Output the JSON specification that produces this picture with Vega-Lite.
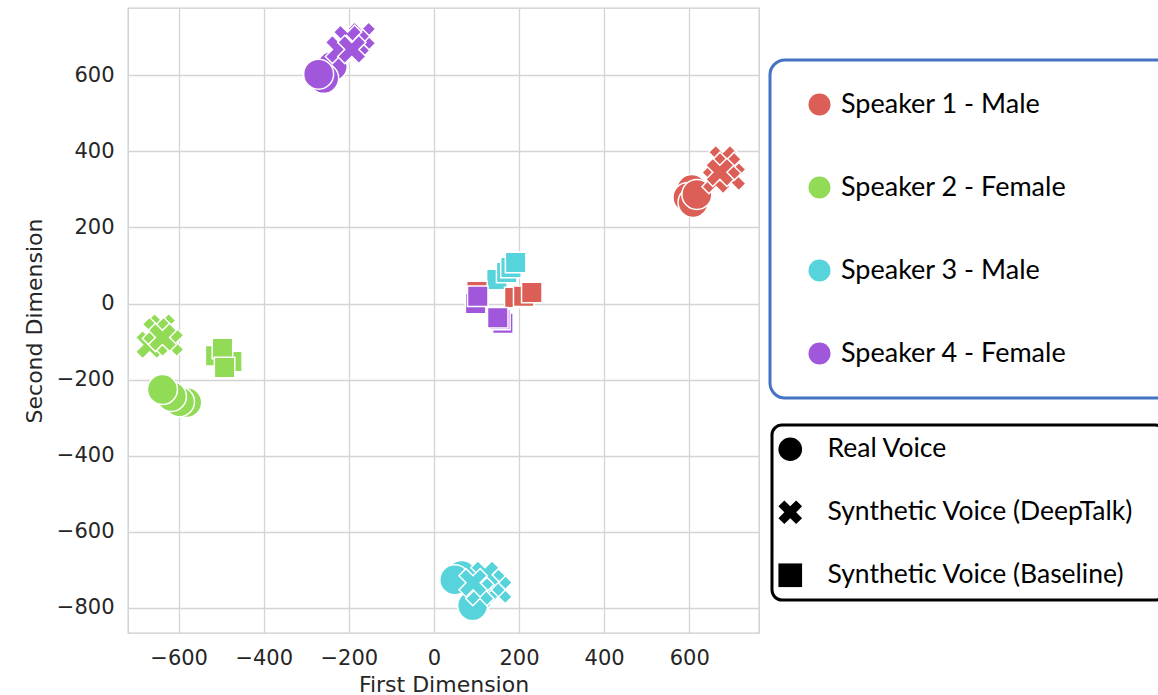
{
  "$schema": "https://vega.github.io/schema/vega-lite/v6.json",
  "width": 631,
  "height": 625,
  "autosize": {"type": "none"},
  "padding": {"left": 128, "top": 8, "right": 399, "bottom": 62},
  "background": "white",
  "config": {
    "view": {"stroke": "#cccccc", "strokeWidth": 1.3},
    "legend": {"strokeWidth": 3},
    "axis": {
      "domain": false, "ticks": false, "grid": true,
      "gridColor": "#d4d4d4", "gridWidth": 1.3,
      "labelFont": "DejaVu Sans", "labelFontSize": 21, "labelColor": "#262626", "labelPadding": 14,
      "titleFont": "DejaVu Sans", "titleFontSize": 22, "titleFontWeight": "normal", "titleColor": "#262626"
    }
  },
  "data": {
    "values": [
      {"x": -253, "y": 613, "speaker": "Speaker 4 - Female", "type": "Real Voice"},
      {"x": -239, "y": 624, "speaker": "Speaker 4 - Female", "type": "Real Voice"},
      {"x": -259, "y": 592, "speaker": "Speaker 4 - Female", "type": "Real Voice"},
      {"x": -271, "y": 603, "speaker": "Speaker 4 - Female", "type": "Real Voice"},
      {"x": -170, "y": 703, "speaker": "Speaker 4 - Female", "type": "Synthetic Voice (DeepTalk)"},
      {"x": -184, "y": 684, "speaker": "Speaker 4 - Female", "type": "Synthetic Voice (DeepTalk)"},
      {"x": -203, "y": 695, "speaker": "Speaker 4 - Female", "type": "Synthetic Voice (DeepTalk)"},
      {"x": -222, "y": 668, "speaker": "Speaker 4 - Female", "type": "Synthetic Voice (DeepTalk)"},
      {"x": -193, "y": 668, "speaker": "Speaker 4 - Female", "type": "Synthetic Voice (DeepTalk)"},

      {"x": 606, "y": 300, "speaker": "Speaker 1 - Male", "type": "Real Voice"},
      {"x": 597, "y": 279, "speaker": "Speaker 1 - Male", "type": "Real Voice"},
      {"x": 609, "y": 266, "speaker": "Speaker 1 - Male", "type": "Real Voice"},
      {"x": 618, "y": 287, "speaker": "Speaker 1 - Male", "type": "Real Voice"},
      {"x": 679, "y": 379, "speaker": "Speaker 1 - Male", "type": "Synthetic Voice (DeepTalk)"},
      {"x": 700, "y": 334, "speaker": "Speaker 1 - Male", "type": "Synthetic Voice (DeepTalk)"},
      {"x": 663, "y": 326, "speaker": "Speaker 1 - Male", "type": "Synthetic Voice (DeepTalk)"},
      {"x": 689, "y": 361, "speaker": "Speaker 1 - Male", "type": "Synthetic Voice (DeepTalk)"},
      {"x": 672, "y": 345, "speaker": "Speaker 1 - Male", "type": "Synthetic Voice (DeepTalk)"},

      {"x": -640, "y": -63, "speaker": "Speaker 2 - Female", "type": "Synthetic Voice (DeepTalk)"},
      {"x": -668, "y": -108, "speaker": "Speaker 2 - Female", "type": "Synthetic Voice (DeepTalk)"},
      {"x": -621, "y": -102, "speaker": "Speaker 2 - Female", "type": "Synthetic Voice (DeepTalk)"},
      {"x": -652, "y": -73, "speaker": "Speaker 2 - Female", "type": "Synthetic Voice (DeepTalk)"},
      {"x": -638, "y": -89, "speaker": "Speaker 2 - Female", "type": "Synthetic Voice (DeepTalk)"},
      {"x": -513, "y": -137, "speaker": "Speaker 2 - Female", "type": "Synthetic Voice (Baseline)"},
      {"x": -475, "y": -152, "speaker": "Speaker 2 - Female", "type": "Synthetic Voice (Baseline)"},
      {"x": -497, "y": -118, "speaker": "Speaker 2 - Female", "type": "Synthetic Voice (Baseline)"},
      {"x": -492, "y": -168, "speaker": "Speaker 2 - Female", "type": "Synthetic Voice (Baseline)"},
      {"x": -581, "y": -260, "speaker": "Speaker 2 - Female", "type": "Real Voice"},
      {"x": -598, "y": -258, "speaker": "Speaker 2 - Female", "type": "Real Voice"},
      {"x": -617, "y": -244, "speaker": "Speaker 2 - Female", "type": "Real Voice"},
      {"x": -638, "y": -226, "speaker": "Speaker 2 - Female", "type": "Real Voice"},

      {"x": 148, "y": 63, "speaker": "Speaker 3 - Male", "type": "Synthetic Voice (Baseline)"},
      {"x": 171, "y": 82, "speaker": "Speaker 3 - Male", "type": "Synthetic Voice (Baseline)"},
      {"x": 181, "y": 95, "speaker": "Speaker 3 - Male", "type": "Synthetic Voice (Baseline)"},
      {"x": 192, "y": 108, "speaker": "Speaker 3 - Male", "type": "Synthetic Voice (Baseline)"},
      {"x": 101, "y": 32, "speaker": "Speaker 1 - Male", "type": "Synthetic Voice (Baseline)"},
      {"x": 190, "y": 16, "speaker": "Speaker 1 - Male", "type": "Synthetic Voice (Baseline)"},
      {"x": 211, "y": 19, "speaker": "Speaker 1 - Male", "type": "Synthetic Voice (Baseline)"},
      {"x": 230, "y": 29, "speaker": "Speaker 1 - Male", "type": "Synthetic Voice (Baseline)"},
      {"x": 98, "y": 0, "speaker": "Speaker 4 - Female", "type": "Synthetic Voice (Baseline)"},
      {"x": 162, "y": -52, "speaker": "Speaker 4 - Female", "type": "Synthetic Voice (Baseline)"},
      {"x": 155, "y": -42, "speaker": "Speaker 4 - Female", "type": "Synthetic Voice (Baseline)"},
      {"x": 103, "y": 19, "speaker": "Speaker 4 - Female", "type": "Synthetic Voice (Baseline)"},
      {"x": 150, "y": -37, "speaker": "Speaker 4 - Female", "type": "Synthetic Voice (Baseline)"},

      {"x": 103, "y": -773, "speaker": "Speaker 3 - Male", "type": "Real Voice"},
      {"x": 91, "y": -794, "speaker": "Speaker 3 - Male", "type": "Real Voice"},
      {"x": 65, "y": -715, "speaker": "Speaker 3 - Male", "type": "Real Voice"},
      {"x": 49, "y": -726, "speaker": "Speaker 3 - Male", "type": "Real Voice"},
      {"x": 151, "y": -752, "speaker": "Speaker 3 - Male", "type": "Synthetic Voice (DeepTalk)"},
      {"x": 135, "y": -734, "speaker": "Speaker 3 - Male", "type": "Synthetic Voice (DeepTalk)"},
      {"x": 120, "y": -713, "speaker": "Speaker 3 - Male", "type": "Synthetic Voice (DeepTalk)"},
      {"x": 108, "y": -757, "speaker": "Speaker 3 - Male", "type": "Synthetic Voice (DeepTalk)"},
      {"x": 92, "y": -734, "speaker": "Speaker 3 - Male", "type": "Synthetic Voice (DeepTalk)"}
    ]
  },
  "encoding": {
    "x": {
      "field": "x", "type": "quantitative",
      "scale": {"domain": [-719, 764], "nice": false, "zero": false},
      "axis": {"values": [-600, -400, -200, 0, 200, 400, 600], "title": "First Dimension", "titlePadding": 6}
    },
    "y": {
      "field": "y", "type": "quantitative",
      "scale": {"domain": [-866, 777], "nice": false, "zero": false},
      "axis": {"values": [-800, -600, -400, -200, 0, 200, 400, 600], "title": "Second Dimension", "titlePadding": 10}
    },
    "color": {
      "field": "speaker", "type": "nominal",
      "scale": {
        "domain": ["Speaker 1 - Male", "Speaker 2 - Female", "Speaker 3 - Male", "Speaker 4 - Female"],
        "range": ["#db5f57", "#91db57", "#57d3db", "#a157db"]
      },
      "legend": {
        "orient": "none", "legendX": 642, "legendY": 52, "title": null, "direction": "vertical",
        "padding": 31, "symbolOffset": 5, "symbolType": "circle", "symbolSize": 484,
        "symbolStrokeWidth": 0, "symbolOpacity": 1,
        "labelFont": "Lato", "labelFontSize": 27, "labelColor": "black", "labelOffset": 8, "labelLimit": 1000,
        "rowPadding": 55, "strokeColor": "#4472C4", "cornerRadius": 15, "fillColor": "white",
        "labelExpr": "datum.label + '\u2800\u2800\u2800\u2800'",
        "encode": {"legend": {"enter": {"strokeWidth": {"value": 3}}, "update": {"strokeWidth": {"value": 3}}}}
      }
    },
    "shape": {
      "field": "type", "type": "nominal",
      "scale": {
        "domain": ["Real Voice", "Synthetic Voice (DeepTalk)", "Synthetic Voice (Baseline)"],
        "range": ["circle", "M0.5,-1L1,-0.5L0.5,0L1,0.5L0.5,1L0,0.5L-0.5,1L-1,0.5L-0.5,0L-1,-0.5L-0.5,-1L0,-0.5Z", "square"]
      },
      "legend": {
        "orient": "none", "legendX": 644, "legendY": 417, "title": null, "direction": "vertical",
        "padding": 11, "symbolOffset": -6, "symbolSize": 560,
        "symbolFillColor": "black", "symbolStrokeColor": "black", "symbolStrokeWidth": 0, "symbolOpacity": 1,
        "labelFont": "Lato", "labelFontSize": 26.5, "labelColor": "black", "labelOffset": 24, "labelLimit": 1000,
        "rowPadding": 36, "strokeColor": "black", "cornerRadius": 10, "fillColor": "white",
        "labelExpr": "datum.label + '\u2800'",
        "encode": {
          "legend": {"enter": {"strokeWidth": {"value": 3}}, "update": {"strokeWidth": {"value": 3}}},
          "symbols": {"update": {"fill": {"value": "black"}, "stroke": {"value": "black"}, "strokeWidth": {"value": 0}}}
        }
      }
    }
  },
  "layer": [
    {
      "transform": [{"filter": "datum.type === 'Real Voice'"}],
      "mark": {"type": "point", "filled": true, "opacity": 1, "stroke": "white", "strokeWidth": 1.5, "size": 900}
    },
    {
      "transform": [{"filter": "datum.type === 'Synthetic Voice (DeepTalk)'"}],
      "mark": {"type": "point", "filled": true, "opacity": 1, "stroke": "white", "strokeWidth": 1.5, "size": 800}
    },
    {
      "transform": [{"filter": "datum.type === 'Synthetic Voice (Baseline)'"}],
      "mark": {"type": "point", "filled": true, "opacity": 1, "stroke": "white", "strokeWidth": 1.5, "size": 420}
    }
  ]
}
